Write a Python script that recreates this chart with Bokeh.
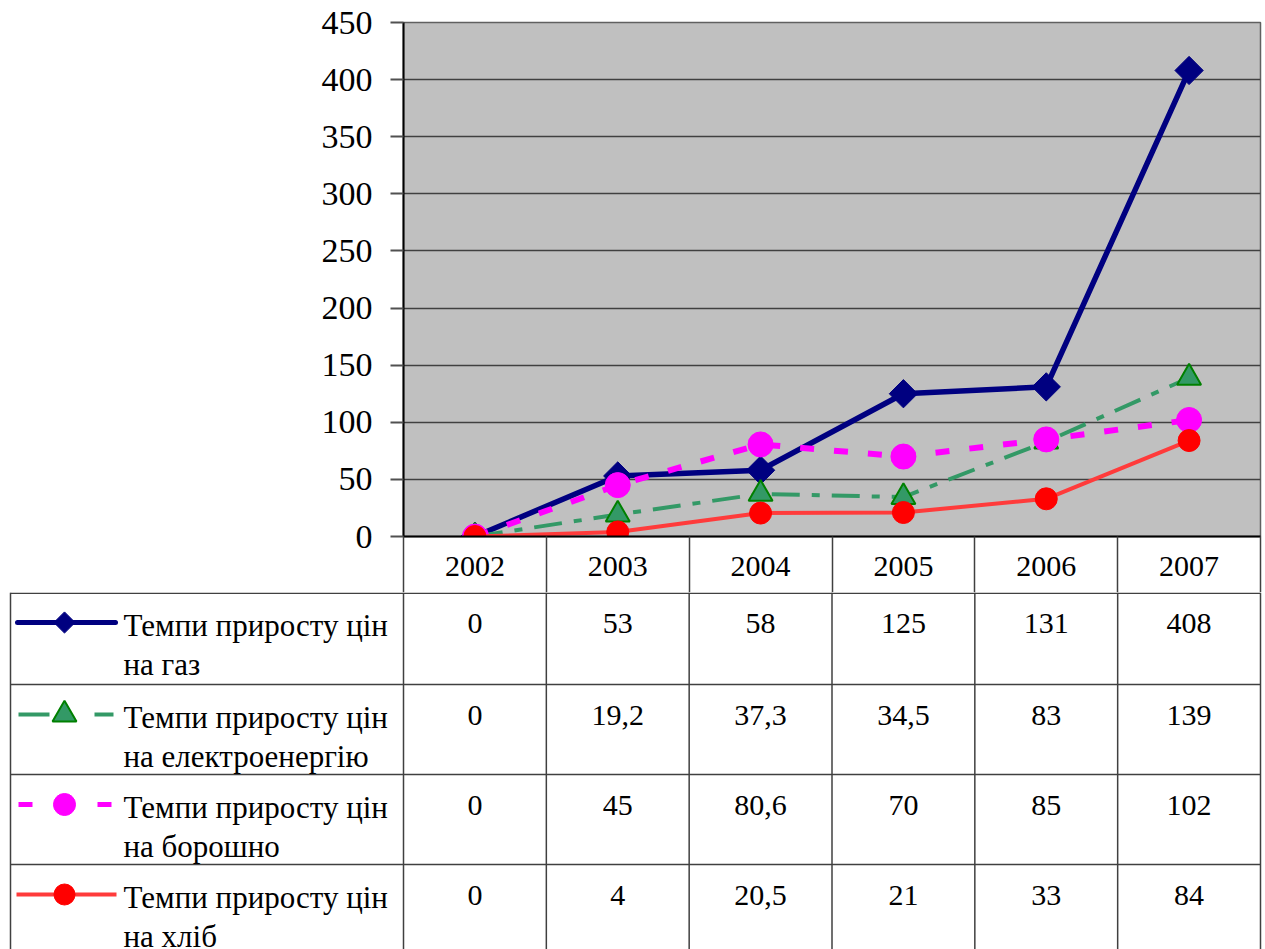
import numpy as np
from bokeh.plotting import figure
from bokeh.layouts import column
from bokeh.models import Range1d, FixedTicker
from bokeh.core.properties import value
from bokeh.embed import file_html
from bokeh.resources import INLINE

# ---------------- data ----------------
years = ["2002", "2003", "2004", "2005", "2006", "2007"]
gas = [0, 53, 58, 125, 131, 408]
electricity = [0, 19.2, 37.3, 34.5, 83, 139]
flour = [0, 45, 80.6, 70, 85, 102]
bread = [0, 4, 20.5, 21, 33, 84]
name_line1 = "Темпи приросту цін"
name_line2 = ["на газ", "на електроенергію", "на борошно", "на хліб"]
y_ticks = [0, 50, 100, 150, 200, 250, 300, 350, 400, 450]

# ---------------- layout constants ----------------
FONT = "'Liberation Serif', 'Times New Roman', serif"
W, H = 1265, 949
LEFT, RIGHT_EDGE, TOP, BOTTOM = 403, 1260, 22, 536
YEAR_ROW_BOTTOM = 592
n = len(years)
colw = (RIGHT_EDGE - LEFT) / n
xs = [i + 0.5 for i in range(n)]

def fmt(v):
    if float(v).is_integer():
        return str(int(v))
    return str(v).replace(".", ",")

# ---------------- chart ----------------
p = figure(width=W, height=YEAR_ROW_BOTTOM,
           x_range=Range1d(0, n), y_range=Range1d(0, 450),
           output_backend="svg", toolbar_location=None,
           min_border_left=LEFT, min_border_right=W - RIGHT_EDGE,
           min_border_top=TOP, min_border_bottom=YEAR_ROW_BOTTOM - BOTTOM)
p.frame_align = False
p.background_fill_color = "#C0C0C0"
p.border_fill_color = "white"
p.outline_line_color = "#606060"
p.outline_line_width = 1.5
p.xgrid.visible = False
p.ygrid.grid_line_color = "#404040"
p.ygrid.grid_line_width = 1.5
p.yaxis.ticker = y_ticks
p.yaxis.axis_line_color = "black"
p.yaxis.axis_line_width = 2
p.yaxis.major_tick_out = 13
p.yaxis.major_tick_in = 0
p.yaxis.major_tick_line_color = "#505050"
p.yaxis.major_tick_line_width = 2
p.yaxis.minor_tick_line_color = None
p.yaxis.major_label_text_font = FONT
p.yaxis.major_label_text_font_size = "34px"
p.yaxis.major_label_text_color = "black"
p.yaxis.major_label_standoff = 18

# x axis = year row of the data table
p.xaxis.ticker = FixedTicker(ticks=xs, minor_ticks=list(range(n + 1)))
p.xaxis.major_label_overrides = {x: y for x, y in zip(xs, years)}
p.xaxis.axis_line_color = "black"
p.xaxis.axis_line_width = 2
p.xaxis.major_tick_out = 0
p.xaxis.major_tick_in = 0
p.xaxis.major_tick_line_color = None
p.xaxis.minor_tick_out = YEAR_ROW_BOTTOM - BOTTOM
p.xaxis.minor_tick_in = 0
p.xaxis.minor_tick_line_color = "#404040"
p.xaxis.minor_tick_line_width = 1.5
p.xaxis.major_label_text_font = FONT
p.xaxis.major_label_text_font_size = "30px"
p.xaxis.major_label_text_color = "black"
p.xaxis.major_label_standoff = -36

# series
p.line(xs, gas, line_color="#000080", line_width=5.5, line_join="round")
p.scatter(xs, gas, marker="square", angle=np.pi / 4, size=20, color="#000080")
p.line(xs, electricity, line_color="#339966", line_width=4, line_dash="28 12 8 12")
p.scatter(xs, electricity, marker="triangle", size=24, fill_color="#339966",
          line_color="#008000", line_width=2)
p.line(xs, flour, line_color="#FF00FF", line_width=6, line_dash="14 20")
p.scatter(xs, flour, marker="circle", size=25, color="#FF00FF")
p.line(xs, bread, line_color="#FF3B3B", line_width=4)
p.scatter(xs, bread, marker="circle", size=22, color="#FF0000")

# ---------------- data table ----------------
t = figure(width=W, height=H - YEAR_ROW_BOTTOM,
           x_range=Range1d(-LEFT / colw, (W - LEFT) / colw),
           y_range=Range1d(H, YEAR_ROW_BOTTOM),
           output_backend="svg", toolbar_location=None,
           x_axis_location=None, y_axis_location=None, min_border=0)
t.frame_align = False
t.outline_line_color = None
t.grid.visible = False
t.background_fill_color = "white"
t.border_fill_color = "white"

row_tops = [YEAR_ROW_BOTTOM + 0.75, 684, 774, 864]
x_tab_left = (10 - LEFT) / colw
line_col = "#404040"
t.segment(x0=[x_tab_left] * len(row_tops), x1=[n] * len(row_tops),
          y0=row_tops, y1=row_tops, line_color=line_col, line_width=1.5)
t.segment(x0=list(range(n + 1)), x1=list(range(n + 1)),
          y0=[YEAR_ROW_BOTTOM] * (n + 1), y1=[H] * (n + 1),
          line_color=line_col, line_width=1.5)
t.segment(x0=[x_tab_left], x1=[x_tab_left], y0=[YEAR_ROW_BOTTOM], y1=[H],
          line_color=line_col, line_width=1.5)

txt = dict(text_font=value(FONT), text_font_size=value("30px"), text_color="black")
series = [gas, electricity, flour, bread]
row_tops_i = [592, 684, 774, 864]
lx = (123 - LEFT) / colw
for r, vals in enumerate(series):
    t.text(xs, [row_tops_i[r] + 31] * n, text=[fmt(v) for v in vals],
           text_align="center", text_baseline="middle", **txt)
    t.text([lx], [row_tops_i[r] + 33], text=[name_line1], text_align="left",
           text_baseline="middle", text_font=value(FONT), text_font_size=value("31px"),
           text_color="black")
    t.text([lx], [row_tops_i[r] + 72], text=[name_line2[r]], text_align="left",
           text_baseline="middle", text_font=value(FONT), text_font_size=value("31px"),
           text_color="black")

def cu(px):
    return (px - LEFT) / colw

ys = [rt + 30 for rt in row_tops_i]
mx = cu(64)
t.line([cu(17), cu(115)], [ys[0], ys[0]], line_color="#000080", line_width=5, line_cap="round")
t.scatter([mx], [ys[0]], marker="square", angle=np.pi / 4, size=15, color="#000080")
t.line([cu(18), cu(113)], [ys[1], ys[1]], line_color="#339966", line_width=4, line_dash="31 45")
t.scatter([mx], [ys[1]], marker="triangle", size=24, fill_color="#339966",
          line_color="#008000", line_width=2)
t.line([cu(18), cu(112)], [ys[2], ys[2]], line_color="#FF00FF", line_width=5, line_dash="14 65")
t.scatter([mx], [ys[2]], marker="circle", size=22, color="#FF00FF")
t.line([cu(16), cu(116)], [ys[3], ys[3]], line_color="#FF3B3B", line_width=4)
t.scatter([mx], [ys[3]], marker="circle", size=21, color="#FF0000")

layout = column(p, t, spacing=0)
open("out.html", "w").write(file_html(layout, INLINE))
